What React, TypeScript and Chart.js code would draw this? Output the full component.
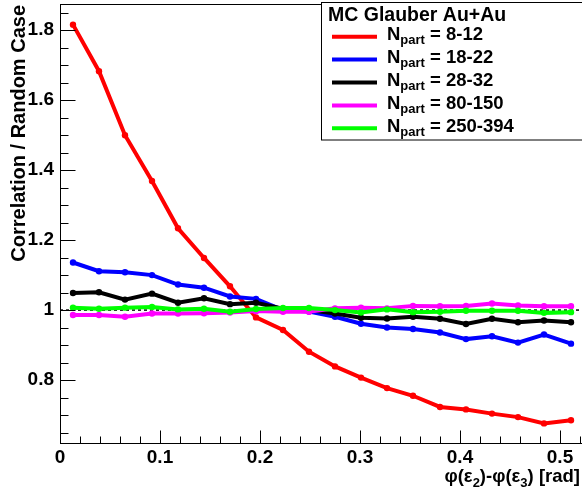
import React, { useEffect, useRef } from "react";
import { Chart, registerables } from "chart.js";

Chart.register(...registerables);

// Bin centres of phi(eps2) - phi(eps3) in radians
const phiBins = [
  0.013, 0.039, 0.065, 0.092, 0.118, 0.144, 0.17, 0.196, 0.223, 0.249,
  0.275, 0.301, 0.327, 0.353, 0.38, 0.406, 0.432, 0.458, 0.484, 0.511,
];

// Correlation / random case, one array per Npart class
const npart8to12 = [
  1.816, 1.683, 1.5, 1.369, 1.234, 1.149, 1.068, 0.979, 0.943, 0.881,
  0.839, 0.807, 0.777, 0.755, 0.723, 0.716, 0.704, 0.694, 0.676, 0.685,
];
const npart18to22 = [
  1.136, 1.111, 1.108, 1.1, 1.073, 1.064, 1.039, 1.032, 1.0, 0.996,
  0.981, 0.961, 0.95, 0.946, 0.936, 0.917, 0.925, 0.907, 0.93, 0.904,
];
const npart28to32 = [
  1.049, 1.051, 1.03, 1.047, 1.021, 1.034, 1.017, 1.021, 1.004, 1.0,
  0.99, 0.978, 0.976, 0.981, 0.975, 0.96, 0.975, 0.965, 0.97, 0.965,
];
const npart80to150 = [
  0.986, 0.986, 0.981, 0.99, 0.99, 0.991, 0.993, 0.997, 0.995, 0.995,
  1.005, 1.007, 1.005, 1.012, 1.011, 1.012, 1.019, 1.013, 1.011, 1.011,
];
const npart250to394 = [
  1.007, 1.004, 1.007, 1.009, 1.002, 1.004, 0.995, 1.003, 1.006, 1.006,
  1.0, 0.993, 1.002, 0.994, 0.995, 0.998, 0.998, 0.998, 0.992, 0.994,
];

const seriesValues = [npart8to12, npart18to22, npart28to32, npart80to150, npart250to394];
const seriesRanges = ["8-12", "18-22", "28-32", "80-150", "250-394"];
const seriesColors = ["#ff0000", "#0000ff", "#000000", "#ff00ff", "#00ff00"];
// lower order is painted later (on top)
const seriesOrder = [5, 4, 3, 2, 1];

// Reference level (no correlation)
const unityLine = [
  { x: 0, y: 1 },
  { x: 0.5236, y: 1 },
];

const xLimits = [0, 0.5236];
const yLimits = [0.62, 1.875];
const xMajorTicks = [0, 0.1, 0.2, 0.3, 0.4, 0.5];
const xMinorTicks = [
  0.02, 0.04, 0.06, 0.08, 0.12, 0.14, 0.16, 0.18, 0.22, 0.24, 0.26, 0.28,
  0.32, 0.34, 0.36, 0.38, 0.42, 0.44, 0.46, 0.48, 0.52,
];
const yMajorTicks = [0.8, 1, 1.2, 1.4, 1.6, 1.8];
const yMinorTicks = [
  0.65, 0.7, 0.75, 0.85, 0.9, 0.95, 1.05, 1.1, 1.15, 1.25, 1.3, 1.35,
  1.45, 1.5, 1.55, 1.65, 1.7, 1.75, 1.85,
];

const legendTitle = "MC Glauber Au+Au";
const yTitle = "Correlation / Random Case";

const FONT = "'Liberation Sans', Arial, Helvetica, sans-serif";
const font = (size: number) => `bold ${size}px ${FONT}`;

type Seg = { t: string; sub?: boolean };

function drawRich(
  ctx: CanvasRenderingContext2D,
  segs: Seg[],
  x: number,
  y: number,
  size: number,
  subSize: number,
  subDrop: number,
  align: "left" | "right"
) {
  ctx.textAlign = "left";
  ctx.textBaseline = "alphabetic";
  const widths = segs.map((s) => {
    ctx.font = font(s.sub ? subSize : size);
    return ctx.measureText(s.t).width;
  });
  const total = widths.reduce((a, b) => a + b, 0);
  let cx = align === "right" ? x - total : x;
  segs.forEach((s, i) => {
    ctx.font = font(s.sub ? subSize : size);
    ctx.fillText(s.t, cx, s.sub ? y + subDrop : y);
    cx += widths[i];
  });
}

const rootStyle = {
  id: "rootStyle",
  afterDatasetsDraw(chart: any) {
    const { ctx, chartArea: a, scales } = chart;
    const xs = scales.x;
    const ys = scales.y;
    ctx.save();
    ctx.strokeStyle = "#000";
    ctx.fillStyle = "#000";
    ctx.lineWidth = 1;

    // frame
    ctx.strokeRect(Math.round(a.left) + 0.5, Math.round(a.top) + 0.5, a.right - a.left, a.bottom - a.top);

    // tick marks pointing into the frame
    ctx.beginPath();
    const left = Math.round(a.left) + 0.5;
    const bottom = Math.round(a.bottom) + 0.5;
    yMajorTicks.forEach((v) => {
      const p = Math.round(ys.getPixelForValue(v)) + 0.5;
      ctx.moveTo(left, p);
      ctx.lineTo(left + 15, p);
    });
    yMinorTicks.forEach((v) => {
      const p = Math.round(ys.getPixelForValue(v)) + 0.5;
      ctx.moveTo(left, p);
      ctx.lineTo(left + 8, p);
    });
    xMajorTicks.forEach((v) => {
      const p = Math.round(xs.getPixelForValue(v)) + 0.5;
      ctx.moveTo(p, bottom);
      ctx.lineTo(p, bottom - 13);
    });
    xMinorTicks.forEach((v) => {
      const p = Math.round(xs.getPixelForValue(v)) + 0.5;
      ctx.moveTo(p, bottom);
      ctx.lineTo(p, bottom - 7);
    });
    ctx.stroke();

    // y-axis title, aligned to the top end of the axis
    ctx.save();
    ctx.translate(24.5, a.top + 1);
    ctx.rotate(-Math.PI / 2);
    ctx.font = font(20);
    ctx.textAlign = "right";
    ctx.textBaseline = "alphabetic";
    ctx.fillText(yTitle, 0, 0);
    ctx.restore();

    // x-axis title, aligned to the right end
    drawRich(
      ctx,
      [
        { t: "\u03c6(\u03b5" },
        { t: "2", sub: true },
        { t: ")-\u03c6(\u03b5" },
        { t: "3", sub: true },
        { t: ") [rad]" },
      ],
      580,
      482,
      18.5,
      13,
      5,
      "right"
    );

    // legend
    ctx.fillStyle = "#fff";
    ctx.fillRect(321.5, 2.5, 300, 137.5);
    ctx.strokeStyle = "#000";
    ctx.lineWidth = 1;
    ctx.strokeRect(321.5, 2.5, 300, 137.5);
    ctx.fillStyle = "#000";
    ctx.font = font(19.5);
    ctx.textAlign = "left";
    ctx.textBaseline = "alphabetic";
    ctx.fillText(legendTitle, 328, 21);
    seriesRanges.forEach((r, i) => {
      const ly = 36.7 + i * 22.9;
      ctx.strokeStyle = seriesColors[i];
      ctx.lineWidth = 4;
      ctx.beginPath();
      ctx.moveTo(332, ly);
      ctx.lineTo(377, ly);
      ctx.stroke();
      ctx.fillStyle = "#000";
      drawRich(
        ctx,
        [{ t: "N" }, { t: "part", sub: true }, { t: " = " + r }],
        387,
        ly + 3.5,
        18.5,
        13,
        4,
        "left"
      );
    });
    ctx.restore();
  },
};

export default function App() {
  const ref = useRef<HTMLCanvasElement | null>(null);

  useEffect(() => {
    if (!ref.current) return;
    const datasets: any[] = seriesValues.map((vals, i) => ({
      label: "Npart = " + seriesRanges[i],
      data: vals.map((v, j) => ({ x: phiBins[j], y: v })),
      borderColor: seriesColors[i],
      backgroundColor: seriesColors[i],
      borderWidth: 4,
      pointRadius: 3.2,
      pointBorderWidth: 0,
      pointStyle: "circle",
      tension: 0,
      order: seriesOrder[i],
    }));
    datasets.push({
      label: "unity",
      data: unityLine,
      borderColor: "#000",
      borderWidth: 1.5,
      borderDash: [3, 3],
      pointRadius: 0,
      order: 10,
    });

    const chart = new Chart(ref.current, {
      type: "line",
      data: { datasets },
      options: {
        animation: false,
        responsive: false,
        devicePixelRatio: 1,
        layout: { padding: { left: 0, top: 2, right: 6.4, bottom: 0 } },
        plugins: { legend: { display: false }, tooltip: { enabled: false } },
        scales: {
          x: {
            type: "linear",
            min: xLimits[0],
            max: xLimits[1],
            grid: { display: false, drawTicks: false },
            border: { display: false },
            afterBuildTicks: (s: any) => {
              s.ticks = xMajorTicks.map((v) => ({ value: v }));
            },
            afterFit: (s: any) => {
              s.height = 47;
              s.paddingLeft = 0;
              s.paddingRight = 0;
            },
            ticks: {
              autoSkip: false,
              maxRotation: 0,
              padding: 3,
              color: "#000",
              font: { family: FONT, size: 19, weight: "bold" },
              callback: (v: any) => String(Number(v)),
            },
          },
          y: {
            type: "linear",
            min: yLimits[0],
            max: yLimits[1],
            grid: { display: false, drawTicks: false },
            border: { display: false },
            afterBuildTicks: (s: any) => {
              s.ticks = yMajorTicks.map((v) => ({ value: v }));
            },
            afterFit: (s: any) => {
              s.width = 60;
              s.paddingTop = 0;
              s.paddingBottom = 0;
            },
            ticks: {
              autoSkip: false,
              padding: 6,
              color: "#000",
              font: { family: FONT, size: 19, weight: "bold" },
              callback: (v: any) => String(Number(v)),
            },
          },
        },
      },
      plugins: [rootStyle],
    } as any);
    return () => chart.destroy();
  }, []);

  return (
    <div
      style={{
        position: "fixed",
        left: 0,
        top: 0,
        width: 582,
        height: 490,
        overflow: "hidden",
        background: "#fff",
      }}
    >
      <canvas ref={ref} width={590} height={490} style={{ width: 590, height: 490, display: "block" }} />
    </div>
  );
}
